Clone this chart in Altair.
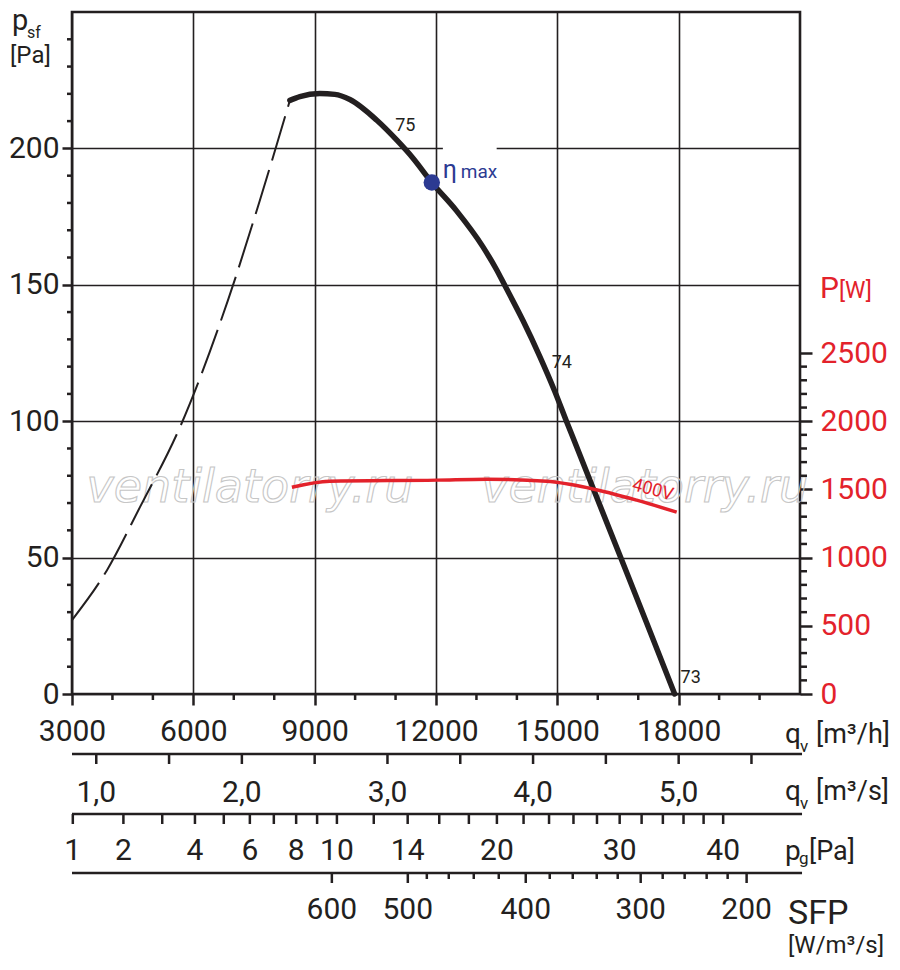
import math
import altair as alt
import pandas as pd

FONT = "Roboto"
WM_FONT = "DejaVu Sans"
INK = "#231f20"
RED = "#e3222b"
NAVY = "#2c3a92"
W, H = 728, 682

# ---------------- data ----------------
# static pressure curve (solid, stable range)  q [m3/h], p_sf [Pa]
solid_q = [8387, 8634, 9128, 9499, 9870, 10537, 11032, 11427, 11896, 12514, 13157,
           13495, 13700, 14153, 14565, 14936, 15225, 15389, 15875, 16567, 17197, 17901]
solid_p = [217.6, 219.0, 220.1, 219.8, 217.9, 210.3, 203.0, 196.5, 187.5, 177.0, 164.0,
           155.6, 149.8, 136.8, 123.8, 111.0, 100.0, 93.9, 75.8, 50.0, 26.5, 0.0]
# unstable range (dashed)
dash_q = [3000, 3865, 4680, 5669, 6855, 7646, 8387]
dash_p = [27.1, 45.4, 68.5, 97.8, 144.3, 181.0, 217.6]
# power curve 400V  q [m3/h], P [W]
power_q = [8437, 9375, 12020, 13256, 14740, 15800, 16962, 17951]
power_w = [1516, 1560, 1568, 1575, 1560, 1509, 1421, 1333]
# max efficiency point
eta_q = [11896]
eta_p = [187.5]
# point labels on the curve
pt_text = ["75", "74", "73"]
pt_q = [11241, 15109, 18297]
pt_p = [208.1, 121.4, 5.7]
# watermark
wm_text = ["ventilatorry.ru", "ventilatorry.ru"]
wm_q = [7399, 17160]
wm_p = [70.3, 70.3]

# axes
q_major = [3000, 6000, 9000, 12000, 15000, 18000]
q_minor = [4000, 5000, 7000, 8000, 10000, 11000, 13000, 14000, 16000, 17000, 19000, 20000]
p_major = [0, 50, 100, 150, 200]
p_minor = [10, 20, 30, 40, 60, 70, 80, 90, 110, 120, 130, 140, 160, 170, 180, 190,
           210, 220, 230, 240]
w_major = [0, 500, 1000, 1500, 2000, 2500]
w_minor = [100, 200, 300, 400, 600, 700, 800, 900, 1100, 1200, 1300, 1400,
           1600, 1700, 1800, 1900, 2100, 2200, 2300, 2400]

m3s_ticks = [1.0, 1.5, 2.0, 2.5, 3.0, 3.5, 4.0, 4.5, 5.0, 5.5]
m3s_labels = [1.0, 2.0, 3.0, 4.0, 5.0]
M3H_PER_M3S = 3600
pg_ticks = [1, 2, 3, 4, 5, 6, 7, 8, 9, 10, 12, 14, 16, 18, 20, 22, 24, 26, 28,
            30, 32, 34, 36, 38, 40]
pg_labels = [1, 2, 4, 6, 8, 10, 14, 20, 30, 40]
PG_Q = 3020  # q [m3/h] = PG_Q * sqrt(pg)
sfp_ticks = [600, 500, 480, 460, 440, 420, 400, 380, 360, 340, 320, 300, 280, 260,
             240, 220, 200]
sfp_tick_q = [9425, 11303, 11773, 12316, 12934, 13552, 14219, 14812, 15381, 15974,
              16493, 17061, 17605, 18148, 18692, 19211, 19680]
sfp_labels = [600, 500, 400, 300, 200]
scale_span_q = [3000, 21050]

# gap in the 200 Pa grid line behind the eta-max label
gap_q = [12170, 13500]
gap_p = [197, 203]

# ---------------- scales ----------------
XS = alt.Scale(domain=[3000, 21000], nice=False, zero=False)
YS = alt.Scale(domain=[0, 250], nice=False, zero=False)
PS = alt.Scale(domain=[0, 5000], nice=False, zero=False)


def X(f="q"):
    return alt.X(f"{f}:Q", scale=XS, axis=None)


def Y(f="p"):
    return alt.Y(f"{f}:Q", scale=YS, axis=None)


one = pd.DataFrame({"a": [0]})

solid_df = pd.DataFrame({"q": solid_q, "p": solid_p})
dash_df = pd.DataFrame({"q": dash_q, "p": dash_p})
power_df = pd.DataFrame({"q": power_q, "w": power_w})
eta_df = pd.DataFrame({"q": eta_q, "p": eta_p})
pt_df = pd.DataFrame({"q": pt_q, "p": pt_p, "t": pt_text})
wm_df = pd.DataFrame({"q": wm_q, "p": wm_p, "t": wm_text})

m3s_tick_df = pd.DataFrame({"q": [v * M3H_PER_M3S for v in m3s_ticks]})
m3s_lab_df = pd.DataFrame({"q": [v * M3H_PER_M3S for v in m3s_labels],
                           "t": [f"{v:.1f}".replace(".", ",") for v in m3s_labels]})
pg_tick_df = pd.DataFrame({"q": [PG_Q * math.sqrt(v) for v in pg_ticks]})
pg_lab_df = pd.DataFrame({"q": [PG_Q * math.sqrt(v) for v in pg_labels],
                          "t": [str(v) for v in pg_labels]})
sfp_df = pd.DataFrame({"q": sfp_tick_q, "v": sfp_ticks})
sfp_major_df = sfp_df[sfp_df["v"].isin(sfp_labels)].copy()
sfp_major_df["t"] = sfp_major_df["v"].astype(str)
sfp_minor_df = sfp_df[~sfp_df["v"].isin(sfp_labels)]
span_df = pd.DataFrame({"q0": [scale_span_q[0]], "q1": [scale_span_q[1]]})

# ---------------- axes carrier layers ----------------
x_axis = alt.Axis(
    values=q_major, format="d", title=None, tickSize=11, tickWidth=2.5,
    tickColor=INK, domain=False, labelFont=FONT, labelFontSize=30,
    labelColor=INK, labelPadding=11, labelFlush=False, labelOverlap=False,
    grid=True, gridColor=INK, gridWidth=1.6, orient="bottom")
y_axis = alt.Axis(
    values=p_major, format="d", title=None, tickSize=10, tickWidth=2.5,
    tickColor=INK, domain=False, labelFont=FONT, labelFontSize=30,
    labelColor=INK, labelPadding=3, labelFlush=False, labelOverlap=False,
    grid=True, gridColor=INK, gridWidth=1.6, orient="left")
w_axis = alt.Axis(
    orient="right", values=w_major, format="d", title=None, tickSize=12,
    tickWidth=2.5, tickColor=INK, domain=False, labelFont=FONT, labelFontSize=30,
    labelColor=RED, labelPadding=8, labelFlush=False, labelOverlap=False,
    grid=False)

axes_layer = alt.Chart(pd.DataFrame({"q": [3000, 21000], "p": [0, 250]})).mark_point(
    opacity=0).encode(
    x=alt.X("q:Q", scale=XS, axis=x_axis),
    y=alt.Y("p:Q", scale=YS, axis=y_axis),
)

left_minor = alt.Chart(pd.DataFrame({"p": p_minor})).mark_rule(
    color=INK, strokeWidth=2.5).encode(y=Y(), x=alt.value(-5), x2=alt.value(0))
bottom_minor = alt.Chart(pd.DataFrame({"q": q_minor})).mark_rule(
    color=INK, strokeWidth=2.5).encode(x=X(), y=alt.value(H), y2=alt.value(H + 6))

gap = alt.Chart(pd.DataFrame({"q0": [gap_q[0]], "q1": [gap_q[1]],
                              "p0": [gap_p[0]], "p1": [gap_p[1]]})).mark_rect(
    color="white").encode(x=X("q0"), x2="q1", y=Y("p0"), y2="p1")

watermark = alt.Chart(wm_df).mark_text(
    font=WM_FONT, fontSize=46, fontStyle="italic", fillOpacity=0,
    stroke="#c6c6c6", strokeWidth=1.1, align="center", baseline="alphabetic"
).encode(x=X(), y=Y(), text="t:N")

dash_line = alt.Chart(dash_df).mark_line(
    color=INK, strokeWidth=2, strokeDash=[46, 10], interpolate="monotone"
).encode(x=X(), y=Y())
solid_line = alt.Chart(solid_df).mark_line(
    color=INK, strokeWidth=5.5, interpolate="monotone", strokeCap="round"
).encode(x=X(), y=Y())
eta_dot = alt.Chart(eta_df).mark_circle(color=NAVY, size=270, opacity=1).encode(
    x=X(), y=Y())
pt_labels = alt.Chart(pt_df).mark_text(
    font=FONT, fontSize=18, color=INK, align="center", baseline="middle"
).encode(x=X(), y=Y(), text="t:N")

eta_sym = alt.Chart(pd.DataFrame({"q": [12168], "p": [189.0]})).mark_text(
    font=FONT, fontSize=25, color=NAVY, align="left", baseline="alphabetic"
).encode(x=X(), y=Y(), text=alt.value("η"))
eta_max = alt.Chart(pd.DataFrame({"q": [12613], "p": [189.0]})).mark_text(
    font=FONT, fontSize=19, color=NAVY, align="left", baseline="alphabetic"
).encode(x=X(), y=Y(), text=alt.value("max"))
volt = alt.Chart(pd.DataFrame({"q": [17358], "p": [74.7]})).mark_text(
    font=FONT, fontSize=18, color=RED, angle=15, align="center", baseline="middle"
).encode(x=X(), y=Y(), text=alt.value("400V"))


def fixed_text(txt, x, y, size, color=INK):
    return alt.Chart(one).mark_text(font=FONT, fontSize=size, color=color,
                                    align="left", baseline="alphabetic").encode(
        x=alt.value(x), y=alt.value(y), text=alt.value(txt))


titles = [
    fixed_text("p", -60, 18, 29), fixed_text("sf", -45, 26, 16),
    fixed_text("[Pa]", -62, 51, 24),
    fixed_text("P", 748, 286, 30, RED), fixed_text("[W]", 767, 286, 23, RED),
]


def scale_row(line_y, tick_df, tick_len, lab_df, lab_y, minor_df=None, minor_len=0):
    layers = [
        alt.Chart(span_df).mark_rule(color=INK, strokeWidth=2.6).encode(
            x=X("q0"), x2="q1", y=alt.value(line_y)),
        alt.Chart(tick_df).mark_rule(color=INK, strokeWidth=2.5).encode(
            x=X(), y=alt.value(line_y), y2=alt.value(line_y + tick_len)),
        alt.Chart(lab_df).mark_text(font=FONT, fontSize=30, color=INK,
                                    align="center", baseline="alphabetic").encode(
            x=X(), y=alt.value(lab_y), text="t:N"),
    ]
    if minor_df is not None:
        layers.append(alt.Chart(minor_df).mark_rule(color=INK, strokeWidth=2.5).encode(
            x=X(), y=alt.value(line_y), y2=alt.value(line_y + minor_len)))
    return layers


rows = []
rows += scale_row(742, m3s_tick_df, 10, m3s_lab_df, 790)
rows += scale_row(802, pg_tick_df, 10, pg_lab_df, 848)
rows += scale_row(861, sfp_major_df[["q"]], 10, sfp_major_df[["q", "t"]], 907,
                  sfp_minor_df[["q"]], 6)

units = [
    fixed_text("q", 713, 731, 28), fixed_text("v", 728, 740, 17),
    fixed_text("[m³/h]", 744, 731, 27),
    fixed_text("q", 713, 788, 28), fixed_text("v", 728, 797, 17),
    fixed_text("[m³/s]", 744, 788, 27),
    fixed_text("p", 713, 848, 28), fixed_text("g", 727, 852, 17),
    fixed_text("[Pa]", 737, 848, 27),
    fixed_text("SFP", 716, 912, 34), fixed_text("[W/m³/s]", 716, 941, 24),
]

red_line = alt.Chart(power_df).mark_line(
    color=RED, strokeWidth=3.5, interpolate="monotone"
).encode(x=X(), y=alt.Y("w:Q", scale=PS, axis=w_axis))
right_minor = alt.Chart(pd.DataFrame({"w": w_minor})).mark_rule(
    color=INK, strokeWidth=2.5).encode(
    y=alt.Y("w:Q", scale=PS, axis=None), x=alt.value(W), x2=alt.value(W + 7))

chart = alt.layer(
    axes_layer, gap, watermark, left_minor, bottom_minor, right_minor,
    dash_line, solid_line, red_line, eta_dot, pt_labels, eta_sym, eta_max, volt,
    *titles, *rows, *units
).resolve_scale(x="independent", y="independent").properties(
    width=W, height=H,
    autosize=alt.AutoSizeParams(type="none"),
    padding={"left": 64, "top": 4, "right": 92, "bottom": 270},
).configure_view(stroke=INK, strokeWidth=2.6)

chart.save("out.html", embed_options={"renderer": "svg", "actions": False})
